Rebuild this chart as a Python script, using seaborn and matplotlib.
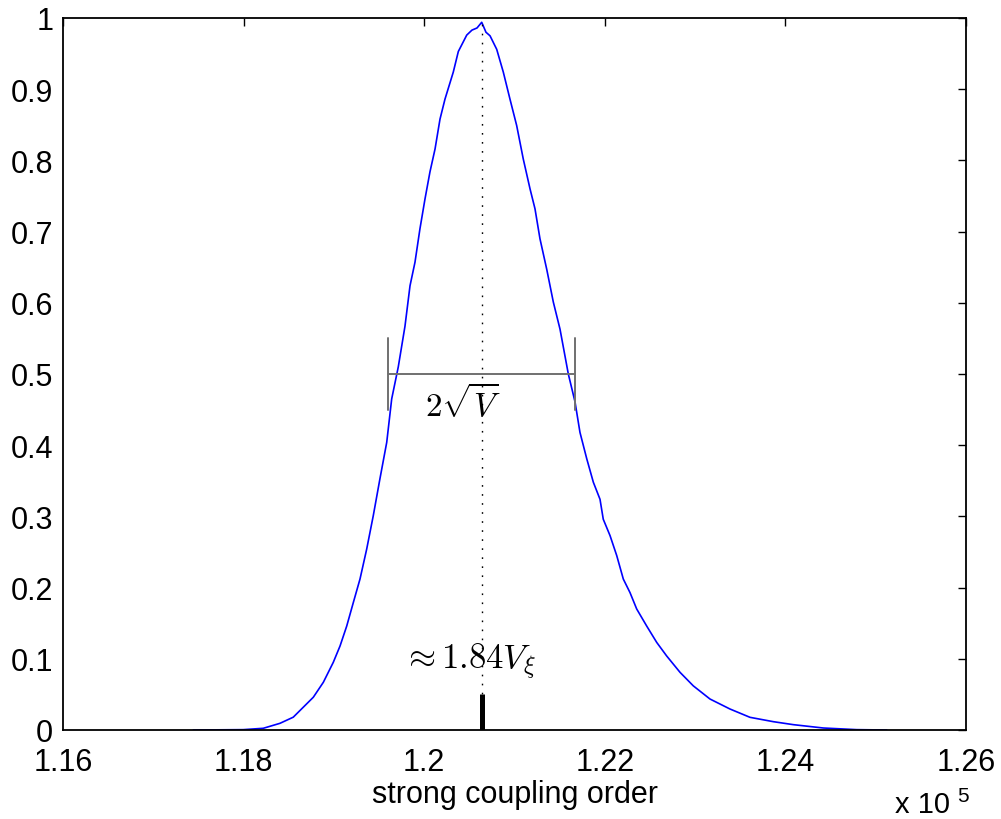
import numpy as np
import pandas as pd
import matplotlib
matplotlib.use("Agg")
import matplotlib.pyplot as plt
import seaborn as sns

# strong coupling order (in units of 1e5) and normalised frequency
order_x = [1.17443, 1.17997, 1.18218, 1.18403, 1.18550, 1.18661, 1.18772, 1.18883,
           1.18993, 1.19068, 1.19142, 1.19215, 1.19289, 1.19363, 1.19436, 1.19510,
           1.19585, 1.19640, 1.19713, 1.19787, 1.19843, 1.19898, 1.19953, 1.20009,
           1.20064, 1.20120, 1.20175, 1.20230, 1.20322, 1.20378, 1.20471, 1.20529,
           1.20585, 1.20637, 1.20684, 1.20729, 1.20803, 1.20876, 1.20950, 1.21024,
           1.21097, 1.21172, 1.21227, 1.21282, 1.21357, 1.21430, 1.21504, 1.21596,
           1.21670, 1.21725, 1.21800, 1.21873, 1.21947, 1.21983, 1.22058, 1.22132,
           1.22205, 1.22279, 1.22353, 1.22464, 1.22575, 1.22685, 1.22833, 1.22980,
           1.23165, 1.23386, 1.23608, 1.23866, 1.24088, 1.24420, 1.24790, 1.25122]
freq_y = [0.0, 0.0005, 0.0024, 0.0094, 0.018, 0.032, 0.046, 0.067,
          0.095, 0.118, 0.146, 0.179, 0.212, 0.254, 0.301, 0.353,
          0.404, 0.465, 0.510, 0.567, 0.624, 0.657, 0.704, 0.746,
          0.784, 0.816, 0.858, 0.886, 0.924, 0.953, 0.976, 0.983,
          0.986, 0.994, 0.980, 0.975, 0.956, 0.924, 0.886, 0.849,
          0.802, 0.760, 0.732, 0.690, 0.647, 0.601, 0.563, 0.500,
          0.461, 0.418, 0.381, 0.348, 0.324, 0.296, 0.273, 0.245,
          0.212, 0.193, 0.170, 0.146, 0.123, 0.104, 0.081, 0.062,
          0.0435, 0.0295, 0.0178, 0.0117, 0.0075, 0.0028, 0.0005, 0.0]

peak_x = 1.2064          # dotted line / black marker position
width_left = 1.1960      # 2 sqrt(V) bar ends
width_right = 1.2167
marker_height = 0.05

x_ticks = [1.16, 1.18, 1.20, 1.22, 1.24, 1.26]
x_tick_labels = ["1.16", "1.18", "1.2", "1.22", "1.24", "1.26"]
y_ticks = [0.0, 0.1, 0.2, 0.3, 0.4, 0.5, 0.6, 0.7, 0.8, 0.9, 1.0]
y_tick_labels = ["0", "0.1", "0.2", "0.3", "0.4", "0.5", "0.6", "0.7", "0.8", "0.9", "1"]

sns.set_style("white")
plt.rcParams["font.family"] = ["Liberation Sans", "DejaVu Sans"]
plt.rcParams["mathtext.fontset"] = "cm"
plt.rcParams["text.color"] = "black"
plt.rcParams["axes.labelcolor"] = "black"
plt.rcParams["xtick.color"] = "black"
plt.rcParams["ytick.color"] = "black"

W, H = 1001, 820
fig = plt.figure(figsize=(W / 100, H / 100), dpi=100)
ax = fig.add_axes([63 / W, (H - 731) / H, (966 - 63) / W, (731 - 19) / H])

df = pd.DataFrame({"order": order_x, "freq": freq_y})
sns.lineplot(data=df, x="order", y="freq", ax=ax, color="#0000ff", linewidth=1.2,
             estimator=None, sort=False)

ax.plot([peak_x, peak_x], [0, 1], color="black", linewidth=1.0, linestyle=(0, (1.2, 5.3)))
ax.plot([peak_x, peak_x], [0, marker_height], color="black", linewidth=3.6, solid_capstyle="butt")

gray = "#707070"
ax.plot([width_left, width_right], [0.5, 0.5], color=gray, linewidth=1.4)
ax.plot([width_left, width_left], [0.45, 0.55], color=gray, linewidth=1.4)
ax.plot([width_right, width_right], [0.45, 0.55], color=gray, linewidth=1.4)

ax.text(1.2043, 0.441, r"$2\sqrt{V}$", fontsize=24, ha="center", va="baseline", color="black")
ax.text(1.2050, 0.087, r"$\approx 1.84V_\xi$", fontsize=25, ha="center", va="baseline", color="black")

ax.set_xlim(1.16, 1.26)
ax.set_ylim(0, 1)
ax.set_xticks(x_ticks)
ax.set_xticklabels(x_tick_labels)
ax.set_yticks(y_ticks)
ax.set_yticklabels(y_tick_labels)
ax.tick_params(axis="both", direction="in", length=6, width=1.0, colors="black",
               labelcolor="black", labelsize=22, top=True, right=True)
ax.tick_params(axis="x", pad=12)
ax.tick_params(axis="y", pad=7)
for s in ax.spines.values():
    s.set_visible(True)
    s.set_color("black")
    s.set_linewidth(1.3)

ax.set_xlabel("strong coupling order", fontsize=22, labelpad=2, color="black")
ax.set_ylabel("")

fig.text(895 / W, (H - 813) / H, "x 10", fontsize=21, ha="left", va="baseline", color="black")
fig.text(957 / W, (H - 787) / H, "5", fontsize=15, ha="left", va="top", color="black")

fig.savefig("out.png", dpi=100, facecolor="white")
